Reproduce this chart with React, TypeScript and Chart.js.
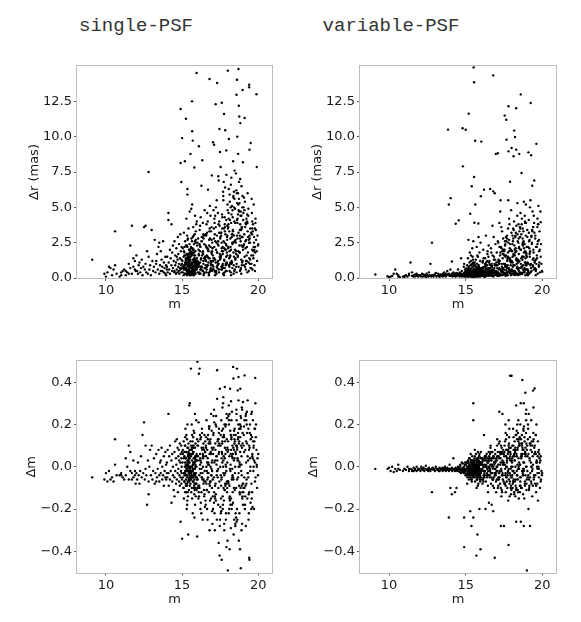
import React, { useEffect, useRef } from "react";
import { Chart, registerables } from "chart.js";

Chart.register(...registerables);

// Star magnitudes (shared by all four panels), grouped by magnitude bins
const magnitudes = [
  // 9.0 - 12.0
  9.1, 9.9, 10.0, 10.1, 10.2, 10.4, 10.5, 10.6, 10.6, 10.7,
  10.9, 11.0, 11.1, 11.2, 11.3, 11.3, 11.4, 11.5, 11.6, 11.6,
  11.7, 11.7, 11.8, 11.8, 11.9, 11.9, 11.95, 11.5, 11.0, 10.3,
  // 12.0 - 14.0
  12.0, 12.05, 12.1, 12.15, 12.2, 12.25, 12.3, 12.35, 12.4, 12.45,
  12.5, 12.55, 12.6, 12.6, 12.65, 12.7, 12.75, 12.8, 12.8, 12.85,
  12.9, 12.95, 13.0, 13.05, 13.1, 13.15, 13.2, 13.25, 13.3, 13.35,
  13.4, 13.45, 13.5, 13.5, 13.55, 13.6, 13.65, 13.7, 13.7, 13.75,
  13.8, 13.8, 13.85, 13.9, 13.9, 13.95, 13.95, 14.0, 13.6, 13.3,
  // 14.0 - 15.0
  14.0, 14.02, 14.05, 14.1, 14.1, 14.12, 14.15, 14.2, 14.2, 14.25,
  14.3, 14.3, 14.35, 14.35, 14.4, 14.4, 14.45, 14.5, 14.5, 14.55,
  14.55, 14.6, 14.6, 14.62, 14.65, 14.7, 14.7, 14.72, 14.75, 14.75,
  14.78, 14.8, 14.8, 14.82, 14.85, 14.85, 14.88, 14.9, 14.9, 14.9,
  14.92, 14.94, 14.95, 14.95, 14.96, 14.97, 14.98, 14.99, 14.5, 14.65,
  // 15.0 - 15.5
  15.0, 15.02, 15.05, 15.05, 15.08, 15.1, 15.1, 15.12, 15.15, 15.15,
  15.18, 15.2, 15.2, 15.2, 15.22, 15.25, 15.25, 15.25, 15.28, 15.3,
  15.3, 15.3, 15.32, 15.33, 15.35, 15.35, 15.35, 15.37, 15.38, 15.4,
  15.4, 15.4, 15.42, 15.42, 15.43, 15.45, 15.45, 15.45, 15.47, 15.48,
  15.48, 15.5, 15.5, 15.5, 15.5, 15.22, 15.28, 15.34, 15.4, 15.46,
  15.05, 15.12, 15.18, 15.24, 15.3, 15.36, 15.42, 15.48, 15.15, 15.27,
  15.33, 15.39, 15.44, 15.49, 15.1, 15.2, 15.3, 15.4, 15.45, 15.35,
  // 15.5 - 16.0
  15.52, 15.55, 15.55, 15.57, 15.58, 15.6, 15.6, 15.6, 15.62, 15.63,
  15.65, 15.65, 15.66, 15.68, 15.7, 15.7, 15.7, 15.72, 15.73, 15.75,
  15.75, 15.77, 15.78, 15.8, 15.8, 15.8, 15.82, 15.83, 15.85, 15.85,
  15.87, 15.88, 15.9, 15.9, 15.92, 15.93, 15.95, 15.95, 15.97, 15.98,
  15.55, 15.6, 15.65, 15.7, 15.75, 15.8, 15.85, 15.9, 15.95, 15.62,
  15.68, 15.74, 15.79, 15.84, 15.89, 15.94, 15.57, 15.63, 15.69, 15.76,
  15.81, 15.86, 15.91, 15.96, 15.53, 15.59, 15.71, 15.83, 15.99, 15.66,
  // 16.0 - 16.5
  16.0, 16.02, 16.05, 16.07, 16.1, 16.1, 16.12, 16.15, 16.17, 16.2,
  16.2, 16.22, 16.25, 16.27, 16.3, 16.3, 16.32, 16.35, 16.37, 16.4,
  16.4, 16.42, 16.45, 16.47, 16.48, 16.5, 16.03, 16.08, 16.13, 16.18,
  16.23, 16.28, 16.33, 16.38, 16.43, 16.06, 16.16, 16.26, 16.36, 16.46,
  // 16.5 - 17.0
  16.52, 16.55, 16.57, 16.6, 16.6, 16.62, 16.65, 16.67, 16.7, 16.7,
  16.72, 16.75, 16.77, 16.8, 16.8, 16.82, 16.85, 16.87, 16.9, 16.9,
  16.92, 16.95, 16.97, 16.98, 16.53, 16.58, 16.63, 16.68, 16.73, 16.78,
  16.83, 16.88, 16.93, 16.99, 16.56, 16.66, 16.76, 16.86, 16.96, 16.64,
  // 17.0 - 17.5
  17.0, 17.03, 17.05, 17.08, 17.1, 17.1, 17.12, 17.15, 17.18, 17.2,
  17.2, 17.22, 17.25, 17.28, 17.3, 17.3, 17.32, 17.35, 17.38, 17.4,
  17.4, 17.42, 17.45, 17.48, 17.5, 17.02, 17.07, 17.13, 17.17, 17.23,
  17.27, 17.33, 17.37, 17.43, 17.47, 17.06, 17.16, 17.26, 17.36, 17.46,
  // 17.5 - 18.0
  17.52, 17.55, 17.57, 17.6, 17.6, 17.62, 17.65, 17.67, 17.7, 17.7,
  17.72, 17.75, 17.77, 17.8, 17.8, 17.82, 17.85, 17.87, 17.9, 17.9,
  17.92, 17.95, 17.97, 17.98, 17.53, 17.58, 17.63, 17.68, 17.73, 17.78,
  17.83, 17.88, 17.93, 17.99, 17.56, 17.61, 17.66, 17.71, 17.76, 17.81,
  17.86, 17.91, 17.96, 17.54, 17.64, 17.74, 17.84, 17.94, 17.69, 17.79,
  // 18.0 - 18.5
  18.0, 18.02, 18.05, 18.07, 18.1, 18.1, 18.12, 18.15, 18.17, 18.2,
  18.2, 18.22, 18.25, 18.27, 18.3, 18.3, 18.32, 18.35, 18.37, 18.4,
  18.4, 18.42, 18.45, 18.47, 18.5, 18.03, 18.08, 18.13, 18.18, 18.23,
  18.28, 18.33, 18.38, 18.43, 18.48, 18.06, 18.16, 18.26, 18.36, 18.46,
  18.04, 18.14, 18.24, 18.34, 18.44, 18.11, 18.21, 18.31, 18.41, 18.49,
  // 18.5 - 19.0
  18.52, 18.55, 18.57, 18.6, 18.6, 18.62, 18.65, 18.67, 18.7, 18.7,
  18.72, 18.75, 18.77, 18.8, 18.8, 18.82, 18.85, 18.87, 18.9, 18.9,
  18.92, 18.95, 18.97, 18.98, 18.53, 18.58, 18.63, 18.68, 18.73, 18.78,
  18.83, 18.88, 18.93, 18.99, 18.56, 18.61, 18.66, 18.71, 18.76, 18.81,
  18.86, 18.91, 18.96, 18.54, 18.64, 18.74, 18.84, 18.94, 18.69, 18.79,
  // 19.0 - 19.5
  19.0, 19.02, 19.05, 19.08, 19.1, 19.1, 19.12, 19.15, 19.18, 19.2,
  19.2, 19.22, 19.25, 19.28, 19.3, 19.3, 19.32, 19.35, 19.38, 19.4,
  19.4, 19.42, 19.45, 19.48, 19.5, 19.03, 19.07, 19.13, 19.17, 19.23,
  19.27, 19.33, 19.37, 19.43, 19.47, 19.06, 19.16, 19.26, 19.36, 19.46,
  // 19.5 - 20.0
  19.52, 19.55, 19.58, 19.6, 19.62, 19.65, 19.68, 19.7, 19.72, 19.75,
  19.78, 19.8, 19.82, 19.85, 19.88, 19.9, 19.92, 19.95, 19.98, 20.0,
  19.54, 19.6, 19.66, 19.72, 19.78, 19.84, 19.9, 19.57, 19.69, 19.81,
  // dense core 15.0 - 16.0
  15.21, 15.34, 15.47, 15.58, 15.69, 15.81, 15.92, 15.16, 15.29, 15.41,
  15.53, 15.64, 15.76, 15.88, 15.24, 15.37, 15.49, 15.61, 15.72, 15.84,
  15.96, 15.19, 15.31, 15.44, 15.56, 15.67, 15.79, 15.91, 15.26, 15.39,
  15.51, 15.63, 15.74, 15.86, 15.98, 15.14, 15.36, 15.46, 15.59, 15.71,
  15.83, 15.94, 15.23, 15.33, 15.43, 15.54, 15.66, 15.78, 15.89, 15.28,
  15.38, 15.52, 15.61, 15.73, 15.82, 15.11, 15.48, 15.57, 15.68, 15.87,
  // dense core 16.0 - 17.0
  16.04, 16.14, 16.24, 16.34, 16.44, 16.54, 16.64, 16.74, 16.84, 16.94,
  16.09, 16.19, 16.29, 16.39, 16.49, 16.59, 16.69, 16.79, 16.89, 16.97,
  16.01, 16.11, 16.21, 16.31, 16.41, 16.51, 16.61, 16.71, 16.81, 16.91,
  16.06, 16.17, 16.27, 16.37, 16.47, 16.57, 16.67, 16.77, 16.87, 16.95,
  // dense core 17.0 - 18.0
  17.04, 17.14, 17.24, 17.34, 17.44, 17.54, 17.64, 17.74, 17.84, 17.94,
  17.09, 17.19, 17.29, 17.39, 17.49, 17.59, 17.69, 17.79, 17.89, 17.97,
  17.01, 17.11, 17.21, 17.31, 17.41, 17.51, 17.61, 17.71, 17.81, 17.91,
  17.06, 17.17, 17.27, 17.37, 17.47, 17.57, 17.67, 17.77, 17.87, 17.96,
  // dense core 18.0 - 19.0
  18.04, 18.14, 18.24, 18.34, 18.44, 18.54, 18.64, 18.74, 18.84, 18.94,
  18.09, 18.19, 18.29, 18.39, 18.49, 18.59, 18.69, 18.79, 18.89, 18.97,
  18.01, 18.11, 18.21, 18.31, 18.41, 18.51, 18.61, 18.71, 18.81, 18.91,
  18.06, 18.17, 18.27, 18.37, 18.47, 18.57, 18.67, 18.77, 18.87, 18.96,
  // dense core 19.0 - 19.8
  19.04, 19.14, 19.24, 19.34, 19.44, 19.54, 19.64, 19.74, 19.09, 19.19,
  19.29, 19.39, 19.49, 19.59, 19.69, 19.01, 19.21, 19.41, 19.61, 19.79,
];

// Δr (mas), single-PSF
const drSingle = [
  1.3, 0.3, 0.1, 0.4, 0.8, 0.2, 0.6, 3.3, 0.9, 0.3,
  0.1, 0.4, 0.5, 0.6, 0.5, 0.2, 0.4, 1.0, 2.3, 0.7,
  3.7, 0.3, 0.8, 1.4, 0.6, 1.2, 0.5, 0.3, 0.2, 0.7,
  1.6, 0.5, 0.3, 0.9, 1.1, 0.4, 0.7, 1.3, 0.2, 0.8,
  3.6, 0.6, 3.7, 1.0, 0.4, 1.9, 0.3, 7.5, 1.5, 0.6,
  0.9, 0.2, 3.4, 1.2, 0.5, 0.8, 2.7, 0.4, 1.0, 1.7,
  0.6, 2.2, 2.5, 0.3, 0.9, 1.9, 1.3, 0.5, 0.8, 2.6,
  0.4, 1.1, 0.7, 0.3, 1.5, 0.9, 0.2, 0.6, 0.5, 1.2,
  0.8, 1.5, 0.4, 4.6, 4.1, 1.1, 0.6, 2.0, 0.3, 1.4,
  3.8, 0.9, 0.5, 1.8, 2.3, 0.7, 1.2, 0.4, 2.6, 0.9,
  1.6, 0.3, 1.1, 2.1, 0.6, 1.3, 0.4, 2.9, 0.8, 1.7,
  0.5, 1.0, 2.4, 0.3, 1.4, 0.7, 3.1, 11.96, 8.14, 0.6,
  1.9, 0.9, 6.79, 0.4, 1.3, 2.2, 0.7, 1.0, 0.5, 1.5,
  9.9, 1.2, 0.4, 2.1, 0.8, 1.5, 0.2, 3.2, 0.9, 1.8,
  8.26, 0.6, 1.1, 2.6, 0.3, 11.27, 1.4, 0.7, 4.2, 1.0,
  2.3, 0.5, 1.7, 0.2, 6.3, 5.9, 0.9, 1.3, 2.8, 0.4,
  1.6, 0.8, 3.5, 1.1, 0.3, 2.0, 0.6, 1.4, 0.9, 2.4,
  0.5, 1.2, 4.7, 0.2, 1.8, 0.7, 1.0, 2.2, 0.4, 1.5,
  0.8, 1.9, 0.3, 1.3, 0.6, 2.7, 1.1, 0.4, 1.6, 0.9,
  3.0, 0.5, 1.2, 2.0, 0.7, 1.0, 0.3, 1.7, 0.6, 1.4,
  0.8, 1.5, 8.78, 0.3, 2.2, 1.0, 4.9, 0.5, 1.7, 0.9,
  12.5, 2.6, 10.38, 0.4, 1.3, 9.72, 0.7, 2.0, 3.6, 0.6,
  1.1, 0.2, 2.4, 7.82, 1.6, 0.5, 3.1, 1.2, 0.8, 4.4,
  1.9, 0.3, 2.7, 1.0, 0.6, 3.8, 14.5, 1.4, 0.9, 2.3,
  0.4, 1.8, 0.7, 2.9, 1.2, 0.5, 1.6, 3.3, 0.8, 1.1,
  2.1, 0.3, 1.4, 0.6, 2.5, 1.0, 0.2, 1.7, 0.9, 3.0,
  0.5, 1.3, 0.7, 4.0, 1.5, 0.4, 2.0, 0.9, 1.2, 5.2,
  1.2, 0.4, 2.8, 0.9, 9.32, 1.6, 0.3, 3.4, 1.1, 2.2,
  0.6, 4.3, 1.4, 6.53, 0.8, 2.6, 8.33, 0.5, 1.9, 3.1,
  1.0, 0.2, 2.4, 0.7, 4.8, 1.5, 0.9, 2.0, 0.4, 3.7,
  1.3, 0.6, 2.9, 1.7, 0.3, 1.1, 2.3, 0.8, 3.9, 1.4,
  0.7, 2.3, 1.2, 3.8, 0.4, 1.6, 4.6, 0.9, 6.25, 2.0,
  1.1, 0.3, 2.7, 14.08, 1.4, 5.1, 0.6, 2.2, 3.3, 0.9,
  1.8, 7.26, 0.5, 2.5, 1.3, 3.0, 0.8, 4.0, 1.9, 0.4,
  2.8, 1.0, 3.6, 0.6, 1.5, 2.1, 0.2, 4.4, 1.2, 3.2,
  2.1, 9.6, 0.8, 3.5, 9.43, 1.4, 4.2, 0.5, 2.6, 12.3,
  1.1, 5.0, 0.3, 3.0, 13.8, 1.8, 0.7, 4.6, 2.3, 1.0,
  6.9, 0.4, 10.54, 8.92, 2.8, 1.6, 0.6, 3.9, 1.3, 2.0,
  5.5, 0.9, 7.2, 3.2, 1.5, 4.8, 0.2, 2.5, 1.2, 3.7,
  1.4, 3.2, 0.6, 12.4, 2.1, 4.5, 0.9, 1.7, 5.8, 0.3,
  2.6, 11.6, 1.2, 3.8, 0.7, 6.4, 2.0, 1.0, 9.03, 4.1,
  0.5, 2.9, 1.6, 5.2, 7.85, 0.8, 3.5, 1.9, 6.8, 0.4,
  10.45, 2.4, 1.1, 4.8, 3.0, 0.6, 2.2, 5.5, 1.3, 3.6,
  0.9, 7.3, 2.7, 1.5, 4.3, 0.2, 3.1, 1.8, 6.1, 2.5,
  14.67, 2.1, 4.6, 9.83, 0.8, 3.3, 5.9, 1.5, 2.8, 0.4,
  6.6, 3.9, 1.2, 5.1, 2.4, 0.7, 4.3, 8.26, 1.8, 3.0,
  6.1, 0.5, 2.6, 4.9, 1.4, 3.6, 0.9, 5.4, 2.2, 7.1,
  1.1, 3.4, 0.3, 4.0, 2.0, 6.3, 1.6, 2.9, 5.7, 0.6,
  3.8, 1.0, 4.5, 2.5, 7.6, 1.9, 0.2, 3.1, 5.0, 1.3,
  2.5, 0.8, 12.97, 14.03, 4.1, 10.0, 1.6, 6.0, 14.79, 3.2,
  12.19, 11.43, 5.3, 0.5, 2.8, 10.96, 4.7, 1.3, 6.5, 3.6,
  0.9, 5.0, 13.3, 2.2, 7.4, 1.0, 3.9, 8.78, 5.6, 1.8,
  4.4, 0.3, 2.9, 8.19, 6.2, 3.0, 1.5, 4.8, 2.3, 7.0,
  0.7, 3.5, 5.8, 1.9, 4.2, 6.8, 2.6, 1.1, 5.2, 3.4,
  2.0, 4.6, 0.9, 3.1, 11.32, 1.5, 5.4, 2.6, 0.6, 3.8,
  1.2, 4.2, 2.2, 0.4, 6.0, 3.3, 1.8, 4.9, 2.7, 13.68,
  13.5, 9.08, 1.0, 3.5, 9.55, 5.0, 2.4, 0.8, 3.9, 1.6,
  4.5, 2.9, 0.5, 3.0, 1.3, 5.7, 2.1, 4.0, 1.1, 2.5,
  3.2, 1.0, 4.6, 2.0, 0.6, 3.8, 1.4, 5.2, 2.5, 0.9,
  3.5, 1.8, 4.2, 2.7, 13.0, 7.85, 1.2, 3.0, 2.3, 2.4,
  0.7, 4.0, 1.6, 2.9, 0.5, 3.4, 1.9, 5.6, 2.2, 3.9,
  // dense core
  0.9, 0.5, 1.3, 0.7, 1.8, 0.4, 1.1, 2.2, 0.6, 1.5,
  0.3, 1.0, 2.0, 0.8, 1.2, 0.5, 1.7, 0.9, 0.3, 2.6,
  1.4, 0.7, 1.1, 0.4, 1.9, 0.6, 1.3, 0.8, 2.3, 0.5,
  1.0, 1.6, 0.2, 1.2, 0.7, 0.9, 1.4, 0.4, 2.1, 0.8,
  1.1, 0.6, 1.6, 0.3, 0.9, 1.3, 0.5, 1.8, 1.0, 0.7,
  1.5, 0.4, 2.8, 0.8, 1.2, 0.6, 1.0, 0.3, 1.7, 0.9,
  1.1, 2.4, 0.6, 1.8, 3.0, 0.9, 2.1, 1.4, 0.5, 2.7,
  1.7, 0.8, 2.9, 1.2, 0.4, 2.2, 1.5, 3.3, 0.7, 1.9,
  2.5, 1.0, 0.3, 1.6, 2.8, 1.3, 0.6, 2.0, 3.5, 1.1,
  0.8, 1.9, 2.6, 0.5, 1.4, 3.1, 0.9, 2.3, 1.2, 1.7,
  1.2, 3.1, 0.5, 2.4, 4.0, 1.6, 0.8, 3.5, 2.0, 1.0,
  2.8, 0.4, 1.8, 3.8, 1.3, 2.5, 0.7, 4.3, 1.5, 3.0,
  0.9, 2.2, 3.6, 1.1, 0.6, 2.9, 1.9, 0.3, 3.3, 2.3,
  1.4, 4.4, 0.8, 2.6, 1.7, 3.2, 1.0, 2.1, 0.5, 3.7,
  2.2, 4.1, 1.0, 3.3, 5.6, 1.7, 2.8, 4.7, 0.6, 3.6,
  1.4, 5.0, 2.5, 0.9, 3.9, 6.0, 1.9, 3.0, 4.4, 1.2,
  3.5, 0.5, 2.0, 4.8, 1.5, 2.7, 5.3, 0.8, 3.8, 2.3,
  4.2, 1.1, 3.1, 5.8, 2.6, 0.4, 4.5, 1.8, 3.4, 2.9,
  2.3, 3.6, 1.2, 4.4, 2.8, 1.6, 3.3, 2.0, 4.8, 1.0,
  3.9, 2.5, 0.7, 3.1, 1.9, 4.1, 2.7, 1.4, 3.5, 2.2,
];

// Δr (mas), variable-PSF
const drVariable = [
  0.25, 0.12, 0.05, 0.1, 0.15, 0.6, 0.3, 0.1, 0.2, 0.05,
  0.1, 0.15, 0.2, 0.1, 0.2, 0.3, 1.1, 0.15, 0.1, 0.2,
  0.25, 0.1, 0.3, 0.15, 0.2, 0.1, 0.2, 0.4, 0.05, 0.3,
  0.15, 0.2, 0.1, 0.3, 0.1, 0.25, 0.15, 0.2, 0.05, 0.3,
  0.2, 0.1, 0.4, 0.15, 0.2, 1.0, 0.1, 2.5, 0.2, 0.15,
  0.1, 0.25, 0.2, 0.35, 0.1, 0.15, 0.3, 0.2, 0.1, 0.25,
  0.15, 0.2, 0.3, 0.1, 0.2, 0.4, 0.15, 0.25, 0.1, 0.3,
  0.2, 0.5, 10.5, 5.2, 0.3, 0.15, 0.2, 0.6, 0.25, 0.1,
  0.2, 5.65, 0.15, 0.3, 1.17, 0.2, 0.1, 0.4, 0.25, 0.15,
  0.3, 0.2, 3.84, 0.1, 0.35, 0.2, 0.15, 0.3, 0.6, 4.08,
  0.2, 0.1, 0.25, 0.4, 0.15, 0.3, 1.4, 0.2, 0.1, 0.5,
  0.25, 0.15, 10.6, 7.9, 0.3, 0.2, 0.8, 0.1, 0.35, 1.0,
  0.2, 0.4, 0.15, 0.3, 0.6, 0.25, 0.1, 0.45, 0.2, 0.3,
  10.49, 0.3, 0.1, 0.6, 0.2, 0.9, 0.4, 0.15, 1.4, 0.3,
  0.5, 0.2, 11.63, 0.8, 0.1, 0.4, 1.1, 0.25, 0.6, 4.55,
  0.2, 0.35, 0.9, 0.1, 0.5, 1.6, 0.3, 0.2, 0.7, 6.49,
  0.15, 0.4, 1.0, 0.25, 2.1, 0.5, 0.1, 0.3, 0.8, 0.2,
  1.3, 0.45, 0.1, 2.6, 0.35, 0.6, 0.2, 1.2, 0.4, 0.15,
  0.7, 0.3, 2.7, 0.5, 0.2, 0.9, 0.1, 0.4, 0.6, 1.8,
  0.25, 0.5, 0.3, 1.1, 0.2, 0.7, 0.15, 0.35, 1.5, 0.4,
  14.9, 13.85, 7.15, 3.91, 0.3, 0.6, 0.1, 0.9, 9.71, 5.2,
  0.2, 0.5, 1.3, 0.3, 0.15, 0.8, 0.4, 2.2, 0.25, 0.6,
  1.0, 0.1, 0.35, 0.7, 0.2, 1.5, 0.45, 3.86, 0.3, 0.9,
  0.15, 0.6, 0.25, 1.8, 0.4, 0.2, 0.7, 0.1, 2.5, 0.5,
  0.3, 1.1, 0.2, 0.6, 0.4, 0.15, 0.8, 0.3, 1.2, 0.5,
  0.1, 0.7, 0.35, 2.9, 0.2, 0.55, 0.9, 0.25, 0.4, 1.6,
  0.3, 0.15, 0.6, 0.2, 1.0, 0.45, 0.35, 0.1, 5.78, 0.8,
  0.3, 9.65, 0.6, 0.2, 1.1, 0.4, 0.15, 2.0, 0.5, 6.25,
  0.3, 0.8, 0.2, 1.4, 0.45, 0.1, 3.0, 0.6, 0.3, 0.9,
  0.2, 1.7, 0.5, 0.35, 0.15, 2.3, 0.7, 0.25, 1.2, 0.4,
  0.1, 0.6, 0.9, 0.3, 1.9, 0.5, 0.2, 1.0, 0.4, 0.7,
  0.4, 1.2, 0.2, 6.3, 0.7, 0.3, 2.1, 0.5, 1.0, 0.15,
  0.8, 3.7, 0.3, 14.34, 6.13, 0.6, 1.5, 0.2, 6.0, 0.9,
  0.4, 2.4, 8.78, 0.3, 1.1, 0.5, 0.2, 1.8, 0.6, 0.35,
  2.9, 0.45, 1.3, 0.25, 0.7, 0.3, 1.6, 0.5, 0.9, 0.2,
  0.5, 1.8, 0.2, 0.9, 8.83, 2.6, 0.4, 1.3, 0.15, 3.9,
  0.7, 0.3, 1.6, 5.5, 0.5, 2.2, 0.25, 1.0, 3.3, 0.6,
  0.2, 1.4, 2.8, 0.4, 1.9, 0.9, 0.35, 2.5, 0.6, 1.2,
  0.2, 3.6, 0.8, 0.45, 1.7, 0.3, 1.1, 4.7, 0.55, 2.0,
  0.6, 11.49, 2.3, 0.3, 1.5, 0.9, 11.2, 9.79, 0.4, 2.8,
  1.2, 0.2, 3.5, 12.15, 8.96, 0.7, 1.9, 0.35, 6.81, 2.4,
  0.5, 1.1, 4.8, 0.25, 1.6, 0.8, 2.9, 0.4, 1.3, 5.5,
  0.6, 2.1, 0.3, 3.2, 1.0, 0.15, 2.6, 0.7, 1.8, 0.45,
  3.8, 1.2, 0.3, 2.0, 0.55, 1.4, 4.2, 0.9, 0.2, 2.5,
  9.2, 0.6, 2.4, 1.1, 0.3, 3.5, 1.7, 0.5, 10.43, 2.0,
  0.9, 9.98, 3.0, 0.4, 12.01, 9.08, 1.4, 0.7, 4.4, 2.6,
  0.2, 1.3, 3.8, 0.5, 8.78, 1.9, 0.8, 8.61, 2.3, 0.35,
  3.2, 1.0, 5.3, 0.6, 2.1, 1.5, 4.0, 0.25, 1.2, 2.8,
  0.45, 3.4, 1.8, 0.7, 2.5, 0.9, 1.6, 3.7, 0.3, 2.2,
  1.2, 3.6, 0.4, 12.99, 2.0, 0.7, 7.43, 4.2, 1.5, 0.3,
  2.8, 0.9, 3.3, 5.4, 1.8, 0.5, 2.4, 4.0, 0.2, 1.1,
  3.0, 0.6, 1.7, 2.2, 0.35, 4.6, 1.4, 0.8, 3.5, 2.6,
  0.45, 1.9, 5.2, 1.0, 2.9, 0.3, 3.8, 1.3, 0.6, 2.1,
  4.4, 0.9, 1.6, 0.25, 3.1, 2.5, 0.7, 3.9, 1.5, 0.5,
  1.5, 3.4, 0.6, 2.2, 8.89, 1.0, 4.1, 0.3, 2.7, 1.8,
  5.0, 0.9, 12.38, 8.68, 3.0, 0.5, 2.4, 6.53, 1.3, 3.6,
  0.8, 2.0, 4.4, 6.9, 1.1, 2.9, 0.4, 3.2, 1.7, 5.5,
  0.7, 2.5, 4.7, 1.4, 3.9, 0.2, 2.1, 1.0, 3.3, 0.6,
  1.2, 3.0, 0.5, 2.2, 9.49, 1.6, 3.6, 0.3, 2.6, 5.1,
  0.8, 1.9, 3.3, 0.4, 4.7, 3.95, 2.4, 1.0, 0.5, 0.45,
  2.8, 0.6, 1.4, 3.8, 0.9, 2.0, 1.5, 0.2, 4.2, 1.1,
  // dense core
  0.2, 0.35, 0.1, 0.5, 0.25, 0.15, 0.4, 0.3, 0.6, 0.1,
  0.2, 0.45, 0.3, 0.15, 0.55, 0.2, 0.1, 0.35, 0.7, 0.25,
  0.4, 0.15, 0.3, 0.5, 0.1, 0.25, 0.6, 0.2, 0.35, 0.45,
  0.15, 0.3, 0.2, 0.8, 0.25, 0.1, 0.4, 0.55, 0.2, 0.3,
  0.15, 0.5, 0.25, 0.35, 0.1, 0.65, 0.2, 0.3, 0.45, 0.15,
  0.25, 0.1, 0.4, 0.3, 0.2, 0.5, 0.15, 0.35, 0.25, 0.6,
  0.3, 0.7, 0.15, 1.1, 0.4, 0.2, 0.9, 0.5, 1.3, 0.25,
  0.6, 0.1, 0.8, 0.35, 1.5, 0.2, 0.55, 0.4, 1.0, 0.3,
  0.15, 0.75, 0.45, 0.2, 1.2, 0.6, 0.3, 0.85, 0.1, 0.5,
  0.4, 1.4, 0.25, 0.65, 0.2, 0.95, 0.35, 0.15, 0.7, 0.45,
  0.4, 1.2, 0.2, 2.1, 0.7, 0.3, 1.6, 0.9, 2.7, 0.5,
  0.15, 1.0, 0.6, 1.9, 0.3, 2.4, 0.8, 0.45, 1.4, 0.2,
  1.1, 0.35, 2.2, 0.6, 1.7, 0.25, 0.9, 3.0, 0.5, 1.3,
  0.7, 0.2, 1.8, 0.4, 1.0, 2.6, 0.3, 1.5, 0.6, 2.0,
  0.5, 1.6, 2.9, 0.3, 1.1, 3.6, 0.8, 2.3, 0.4, 1.8,
  2.6, 0.2, 1.3, 3.1, 0.7, 2.0, 0.35, 1.5, 3.9, 0.9,
  1.2, 2.8, 0.5, 1.9, 0.25, 3.3, 1.0, 2.4, 0.6, 1.4,
  3.0, 0.45, 2.1, 0.8, 1.7, 3.5, 0.3, 2.5, 1.1, 0.6,
  1.1, 2.6, 0.4, 3.4, 1.8, 0.7, 2.2, 3.8, 0.5, 1.5,
  2.9, 0.9, 3.2, 1.3, 2.4, 0.3, 1.9, 3.6, 1.0, 2.7,
];

// Δm, single-PSF
const dmSingle = [
  -0.05, -0.06, -0.03, -0.07, -0.02, -0.05, -0.07, 0.13, 0.01, -0.04,
  -0.04, -0.03, -0.05, -0.06, -0.04, 0.04, 0.0, 0.1, 0.07, -0.02,
  -0.03, -0.06, 0.03, -0.05, -0.02, -0.04, -0.08, -0.06, -0.04, -0.06,
  -0.03, -0.06, 0.02, -0.04, -0.08, -0.02, 0.05, -0.05, 0.15, -0.03,
  0.21, -0.06, 0.1, -0.01, -0.04, -0.18, 0.03, -0.13, -0.07, 0.0,
  0.08, -0.04, 0.1, -0.06, -0.02, 0.04, -0.08, -0.03, 0.06, -0.05,
  -0.01, 0.08, -0.04, -0.07, 0.02, -0.03, 0.09, -0.06, 0.0, -0.04,
  0.05, -0.09, -0.02, 0.07, -0.05, 0.01, -0.06, -0.03, 0.03, -0.07,
  0.02, -0.05, 0.08, 0.25, -0.03, -0.09, 0.05, -0.06, 0.1, -0.02,
  -0.17, 0.03, -0.07, 0.06, -0.04, 0.0, -0.11, 0.07, -0.05, 0.12,
  -0.02, 0.04, -0.08, 0.01, -0.06, 0.09, -0.03, -0.12, 0.05, -0.01,
  0.08, -0.07, 0.03, -0.04, 0.11, -0.09, 0.02, -0.26, 0.06, -0.05,
  -0.02, 0.1, -0.08, 0.04, -0.03, 0.0, 0.07, -0.06, -0.14, 0.13,
  -0.34, 0.02, -0.05, 0.08, -0.1, 0.12, -0.03, -0.15, 0.05, -0.07,
  0.0, -0.12, 0.1, -0.02, 0.18, -0.06, 0.04, -0.09, 0.07, -0.04,
  -0.2, 0.01, 0.13, -0.08, 0.03, -0.05, 0.09, -0.01, -0.14, 0.06,
  -0.32, 0.0, -0.07, 0.11, -0.03, 0.05, -0.11, 0.02, 0.29, -0.06,
  0.08, -0.02, 0.3, -0.09, 0.04, -0.04, 0.15, -0.16, 0.01, -0.07,
  0.06, -0.03, 0.1, -0.08, 0.0, -0.12, 0.03, -0.05, 0.07, -0.01,
  -0.18, 0.09, -0.06, 0.02, -0.1, 0.14, -0.04, 0.05, -0.02, 0.2,
  0.05, -0.08, 0.12, -0.03, 0.464, 0.0, -0.12, 0.08, -0.05, 0.2,
  -0.02, 0.03, -0.15, 0.1, -0.07, 0.06, -0.22, 0.01, 0.14, -0.04,
  0.07, -0.1, 0.02, -0.06, 0.16, -0.13, 0.04, -0.01, 0.09, -0.18,
  0.0, 0.11, -0.08, 0.05, -0.03, 0.22, -0.11, 0.03, -0.06, 0.13,
  -0.02, 0.08, -0.05, 0.01, 0.1, -0.09, 0.04, -0.14, 0.06, -0.04,
  0.12, -0.07, 0.02, 0.25, -0.1, 0.0, -0.05, 0.09, -0.02, 0.17,
  -0.24, 0.05, -0.08, 0.03, 0.0, -0.06, 0.07, -0.03, -0.33, 0.15,
  0.496, -0.06, 0.1, -0.15, 0.03, 0.44, -0.09, 0.464, 0.06, -0.2,
  0.13, -0.03, 0.02, -0.12, 0.18, -0.05, 0.08, -0.25, 0.0, 0.11,
  -0.08, 0.05, -0.14, 0.15, -0.02, 0.07, -0.1, 0.21, -0.04, 0.01,
  -0.17, 0.09, -0.06, 0.04, -0.11, 0.12, -0.01, -0.22, 0.06, -0.07,
  0.12, -0.18, 0.05, -0.08, 0.22, -0.02, 0.08, -0.25, 0.15, -0.05,
  0.02, -0.12, 0.18, -0.3, 0.06, -0.09, 0.11, 0.0, -0.15, 0.25,
  -0.04, 0.09, -0.21, 0.03, -0.07, 0.14, -0.11, 0.04, -0.03, 0.19,
  -0.16, 0.07, -0.01, -0.27, 0.1, -0.06, 0.01, 0.13, -0.1, -0.2,
  0.08, -0.2, 0.15, -0.05, 0.27, -0.12, 0.02, -0.3, 0.11, -0.08,
  0.2, -0.16, 0.05, -0.25, 0.456, 0.321, -0.02, 0.13, -0.1, 0.06,
  -0.36, 0.18, -0.07, 0.369, 0.0, -0.14, 0.09, -0.22, 0.03, 0.24,
  -0.04, 0.12, -0.18, 0.07, -0.28, 0.16, -0.09, 0.01, 0.1, -0.42,
  0.1, -0.15, 0.22, -0.05, -0.44, 0.06, 0.28, -0.2, 0.329, 0.0,
  -0.1, 0.14, -0.3, 0.377, 0.04, -0.08, 0.19, -0.25, 0.08, -0.02,
  0.25, -0.12, 0.02, -0.35, 0.15, -0.06, 0.11, -0.18, 0.05, 0.2,
  -0.03, -0.22, 0.13, 0.07, -0.09, 0.17, -0.14, 0.03, -0.27, 0.09,
  0.01, -0.38, 0.23, -0.04, 0.12, -0.16, 0.06, -0.07, 0.3, -0.11,
  -0.49, 0.12, -0.08, 0.2, -0.15, 0.05, -0.39, 0.369, -0.02, 0.15,
  -0.29, 0.08, -0.2, 0.26, -0.05, 0.1, -0.12, 0.472, 0.417, -0.1,
  0.03, -0.25, 0.18, -0.03, 0.07, -0.07, 0.22, -0.14, 0.01, 0.13,
  -0.18, 0.06, -0.32, 0.11, 0.0, -0.22, 0.17, -0.06, 0.09, -0.11,
  0.24, -0.01, 0.14, -0.17, 0.04, -0.09, 0.31, -0.04, 0.08, -0.27,
  0.15, -0.1, 0.25, 0.464, -0.2, 0.08, 0.361, -0.05, 0.424, 0.314,
  -0.35, 0.12, 0.02, -0.39, 0.2, 0.369, -0.48, 0.1, -0.3, 0.05,
  0.28, -0.15, 0.16, -0.08, 0.06, 0.22, -0.25, 0.03, 0.11, -0.12,
  0.18, -0.02, 0.09, -0.18, 0.27, -0.06, 0.13, 0.0, -0.22, 0.07,
  0.19, -0.04, -0.14, 0.1, 0.04, -0.09, 0.24, -0.27, 0.14, 0.01,
  0.306, -0.12, 0.15, -0.05, 0.432, 0.22, -0.2, 0.08, -0.28, 0.12,
  0.02, -0.08, 0.26, -0.15, 0.314, 0.05, -0.03, 0.18, -0.22, -0.43,
  0.1, -0.44, 0.2, 0.0, 0.13, -0.1, 0.07, -0.18, 0.24, -0.06,
  0.16, 0.03, -0.13, 0.09, -0.02, 0.19, -0.09, 0.11, -0.25, 0.04,
  0.15, -0.08, 0.26, 0.05, -0.19, 0.22, -0.02, 0.1, -0.2, 0.18,
  0.02, 0.42, -0.05, 0.2, 0.08, 0.01, -0.1, 0.04, -0.04, 0.06,
  0.25, -0.12, 0.12, 0.03, -0.07, 0.14, 0.0, -0.15, 0.09, 0.3,
  // dense core
  -0.03, 0.02, -0.06, 0.05, -0.01, -0.08, 0.03, -0.04, 0.07, -0.02,
  0.0, -0.1, 0.04, -0.05, 0.01, -0.07, 0.06, -0.03, 0.09, -0.01,
  -0.05, 0.02, -0.09, 0.04, -0.02, 0.06, -0.04, 0.0, -0.12, 0.03,
  -0.06, 0.08, -0.01, -0.04, 0.05, -0.07, 0.01, -0.03, 0.1, -0.05,
  0.02, -0.08, 0.04, -0.02, 0.07, -0.06, 0.0, -0.03, 0.03, -0.09,
  0.05, -0.01, -0.05, 0.02, -0.11, 0.04, -0.04, 0.06, -0.02, 0.01,
  0.05, -0.1, 0.14, -0.03, 0.08, -0.16, 0.02, 0.11, -0.07, 0.17,
  -0.12, 0.04, -0.05, 0.09, -0.19, 0.0, 0.13, -0.08, 0.06, -0.02,
  0.1, -0.14, 0.03, 0.16, -0.06, 0.07, -0.11, 0.01, 0.12, -0.04,
  -0.09, 0.15, -0.01, 0.05, -0.13, 0.09, -0.03, 0.19, -0.07, 0.02,
  0.06, -0.14, 0.19, -0.05, 0.11, -0.22, 0.02, 0.15, -0.09, 0.23,
  -0.17, 0.08, -0.02, 0.13, -0.25, 0.04, 0.18, -0.11, 0.0, 0.09,
  -0.06, 0.21, -0.13, 0.03, 0.16, -0.19, 0.07, -0.03, 0.12, -0.08,
  0.24, -0.15, 0.05, -0.01, 0.1, -0.21, 0.14, -0.04, 0.2, -0.1,
  0.08, -0.16, 0.22, -0.05, 0.13, -0.24, 0.03, 0.18, -0.1, 0.27,
  -0.2, 0.06, -0.01, 0.15, -0.28, 0.1, 0.2, -0.13, 0.01, 0.11,
  -0.07, 0.25, -0.15, 0.04, 0.17, -0.22, 0.09, -0.03, 0.14, -0.09,
  0.29, -0.18, 0.05, -0.06, 0.12, -0.26, 0.16, 0.0, 0.23, -0.12,
  0.1, -0.14, 0.2, -0.05, 0.16, -0.2, 0.04, 0.12, -0.1, 0.25,
  -0.03, 0.08, -0.17, 0.14, 0.0, -0.08, 0.22, -0.12, 0.06, 0.18,
];

// Δm, variable-PSF
const dmVariable = [
  -0.01, -0.01, -0.005, -0.02, 0.0, -0.01, -0.02, 0.01, -0.01, -0.015,
  -0.02, -0.01, -0.015, 0.0, -0.01, -0.02, -0.01, -0.015, -0.005, -0.02,
  -0.01, -0.015, 0.0, -0.02, -0.01, -0.015, -0.01, -0.02, -0.01, -0.025,
  -0.01, -0.02, 0.0, -0.01, -0.015, -0.005, -0.02, -0.01, 0.005, -0.015,
  -0.01, -0.02, -0.005, -0.01, -0.015, -0.02, -0.01, -0.12, -0.01, -0.005,
  -0.015, -0.01, -0.02, 0.0, -0.01, -0.015, -0.01, -0.02, -0.005, -0.01,
  -0.015, -0.01, -0.02, -0.005, -0.01, -0.015, 0.0, -0.01, -0.02, -0.01,
  -0.015, -0.005, -0.01, -0.24, -0.02, -0.01, 0.01, -0.015, -0.01, -0.02,
  -0.1, -0.01, -0.015, -0.13, -0.005, -0.02, -0.01, 0.04, -0.015, -0.01,
  -0.12, -0.02, -0.005, -0.01, -0.1, -0.015, -0.02, -0.01, 0.0, -0.015,
  -0.02, -0.01, -0.005, -0.025, 0.01, -0.015, -0.03, -0.01, 0.02, -0.02,
  -0.01, -0.025, -0.005, 0.015, -0.02, -0.01, -0.03, -0.24, -0.38, 0.0,
  -0.015, -0.02, 0.01, -0.03, -0.01, 0.02, -0.02, -0.04, -0.01, 0.005,
  -0.02, 0.01, -0.04, -0.01, 0.02, -0.03, 0.0, -0.05, 0.03, -0.02,
  -0.01, -0.06, 0.02, -0.03, 0.01, -0.04, -0.02, 0.04, -0.01, -0.21,
  -0.03, 0.0, -0.05, 0.02, -0.02, -0.01, 0.03, -0.04, -0.28, 0.01,
  -0.02, -0.06, 0.0, -0.03, 0.05, -0.01, -0.04, 0.02, -0.02, 0.01,
  -0.05, 0.3, 0.22, -0.24, -0.03, 0.0, -0.02, 0.03, -0.07, -0.01,
  0.02, -0.04, -0.01, 0.04, -0.03, -0.06, 0.01, -0.02, 0.0, -0.05,
  0.06, -0.01, -0.03, 0.02, -0.08, 0.0, -0.02, 0.03, -0.04, -0.01,
  -0.02, 0.02, -0.05, 0.0, 0.04, -0.03, -0.01, 0.05, -0.07, 0.01,
  -0.04, 0.03, -0.02, 0.06, -0.42, -0.01, 0.0, -0.06, 0.02, -0.03,
  0.04, -0.32, -0.01, 0.07, -0.04, 0.01, -0.02, -0.08, 0.03, -0.05,
  0.0, 0.05, -0.03, -0.2, 0.02, -0.06, 0.01, -0.02, -0.39, 0.04,
  -0.04, 0.08, -0.01, -0.05, 0.02, -0.03, 0.0, 0.06, -0.07, 0.01,
  -0.02, 0.03, -0.09, 0.0, 0.05, -0.04, 0.02, -0.03, 0.01, -0.06,
  0.04, -0.01, 0.02, -0.05, 0.0, 0.03, -0.1, -0.02, 0.07, -0.04,
  -0.03, 0.02, -0.06, 0.04, -0.01, -0.08, 0.03, 0.0, -0.04, 0.15,
  0.01, -0.05, 0.05, -0.02, -0.2, 0.03, -0.07, 0.0, 0.06, -0.03,
  -0.01, 0.04, -0.09, 0.02, -0.04, 0.07, -0.02, 0.01, -0.06, 0.03,
  -0.03, 0.0, 0.05, -0.05, 0.02, -0.01, -0.07, 0.04, 0.0, -0.12,
  -0.17, 0.03, -0.05, 0.06, -0.02, 0.09, -0.08, 0.01, -0.18, 0.04,
  -0.03, 0.07, -0.06, -0.21, 0.0, 0.05, -0.1, 0.02, -0.43, -0.04,
  0.08, -0.01, 0.03, -0.07, 0.05, -0.02, 0.1, -0.05, 0.01, -0.09,
  0.04, -0.03, 0.06, -0.12, 0.0, 0.03, -0.06, 0.02, -0.04, 0.07,
  0.04, -0.06, 0.1, -0.02, 0.07, -0.1, 0.01, 0.05, -0.05, 0.26,
  -0.03, 0.12, -0.08, 0.02, -0.28, 0.06, -0.01, 0.09, -0.12, 0.25,
  0.03, -0.04, 0.08, -0.07, -0.28, 0.0, 0.05, -0.09, 0.11, -0.02,
  0.04, -0.14, 0.07, -0.06, 0.02, 0.13, -0.03, 0.01, -0.11, 0.06,
  0.05, -0.08, 0.12, -0.03, 0.2, -0.12, 0.08, -0.05, 0.15, 0.02,
  -0.1, 0.06, -0.02, -0.37, 0.1, -0.06, 0.18, -0.14, 0.43, 0.03,
  -0.04, 0.09, -0.09, 0.0, 0.07, -0.01, 0.13, -0.07, 0.04, -0.16,
  0.11, -0.03, 0.06, -0.11, 0.01, 0.16, -0.05, 0.08, -0.02, 0.22,
  -0.08, 0.05, -0.13, 0.1, 0.0, -0.04, 0.14, -0.1, 0.03, 0.07,
  0.43, -0.05, 0.1, -0.1, 0.05, 0.18, -0.02, 0.08, -0.13, 0.03,
  0.12, -0.07, 0.0, 0.15, 0.29, -0.26, 0.06, -0.04, 0.2, -0.11,
  0.09, -0.01, 0.04, -0.15, 0.11, 0.02, -0.08, 0.14, -0.03, 0.07,
  -0.06, 0.17, 0.01, -0.12, 0.1, -0.02, 0.06, -0.09, 0.13, 0.0,
  -0.04, 0.08, -0.14, 0.05, 0.22, -0.07, 0.03, -0.1, 0.16, -0.01,
  0.1, -0.05, 0.2, 0.3, -0.26, 0.05, -0.1, 0.15, 0.41, -0.02,
  0.08, -0.13, 0.18, 0.3, -0.28, 0.02, 0.12, -0.07, 0.35, -0.04,
  0.06, 0.22, -0.11, 0.0, 0.14, -0.09, 0.04, 0.1, -0.03, 0.17,
  -0.15, 0.07, 0.25, -0.06, 0.01, 0.13, -0.1, 0.09, -0.01, 0.19,
  -0.08, 0.05, 0.27, -0.12, 0.11, -0.04, 0.06, 0.16, -0.02, 0.08,
  -0.49, 0.1, -0.05, 0.18, -0.2, 0.06, 0.25, -0.1, 0.03, -0.28,
  0.14, -0.03, 0.08, 0.22, -0.08, 0.0, 0.12, -0.14, 0.05, 0.36,
  0.01, 0.16, -0.06, 0.09, 0.37, -0.02, 0.2, -0.11, 0.04, 0.11,
  -0.07, 0.07, -0.01, 0.28, -0.04, 0.13, -0.09, 0.02, 0.1, -0.05,
  0.1, -0.04, 0.06, -0.12, 0.2, 0.02, -0.08, 0.05, -0.16, 0.0,
  0.08, -0.03, 0.04, -0.1, 0.03, 0.05, -0.06, -0.02, -0.04, -0.03,
  0.07, -0.09, 0.0, 0.12, -0.05, 0.02, -0.07, 0.15, -0.01, 0.06,
  // dense core
  -0.01, -0.03, 0.01, -0.02, 0.0, -0.04, 0.02, -0.01, -0.03, 0.01,
  -0.02, 0.0, -0.05, 0.02, -0.01, -0.03, 0.03, -0.02, 0.0, -0.04,
  0.01, -0.01, -0.02, 0.02, -0.03, 0.0, -0.01, -0.04, 0.01, -0.02,
  0.03, -0.03, 0.0, -0.01, -0.05, 0.02, -0.02, 0.01, -0.03, 0.0,
  -0.01, 0.02, -0.04, -0.02, 0.01, 0.0, -0.03, 0.02, -0.01, -0.02,
  0.01, -0.04, 0.0, -0.02, 0.03, -0.01, -0.03, 0.01, -0.02, 0.0,
  -0.02, 0.03, -0.04, 0.01, -0.01, 0.04, -0.03, 0.0, -0.05, 0.02,
  0.01, -0.02, 0.05, -0.04, 0.0, -0.01, 0.03, -0.06, 0.02, -0.03,
  -0.01, 0.04, -0.02, 0.0, -0.04, 0.03, 0.01, -0.03, 0.05, -0.01,
  0.02, -0.05, 0.0, 0.03, -0.02, -0.04, 0.04, -0.01, 0.01, -0.03,
  0.03, -0.05, 0.07, -0.02, 0.01, -0.08, 0.05, -0.03, 0.09, -0.01,
  -0.06, 0.04, -0.1, 0.02, 0.06, -0.04, 0.0, 0.08, -0.07, 0.03,
  -0.02, 0.05, -0.05, 0.1, -0.03, 0.01, -0.09, 0.04, -0.01, 0.07,
  0.0, -0.06, 0.06, -0.04, 0.02, -0.08, 0.08, -0.02, 0.04, -0.05,
  0.04, -0.06, 0.09, -0.02, 0.12, -0.09, 0.06, -0.04, 0.14, 0.0,
  -0.07, 0.05, -0.11, 0.08, 0.02, -0.05, 0.11, -0.01, 0.07, -0.08,
  0.03, 0.1, -0.03, 0.15, -0.06, 0.01, -0.1, 0.06, -0.02, 0.09,
  0.0, -0.12, 0.08, -0.04, 0.13, -0.07, 0.05, 0.02, -0.09, 0.11,
  0.05, -0.06, 0.1, -0.02, 0.13, -0.08, 0.03, 0.07, -0.04, 0.11,
  0.0, -0.09, 0.06, 0.15, -0.03, 0.08, -0.05, 0.12, 0.02, -0.01,
];

const columnTitles = ["single-PSF", "variable-PSF"];
const xTicks = [10, 15, 20];
const drTicks = [0, 2.5, 5, 7.5, 10, 12.5];
const dmTicks = [-0.4, -0.2, 0, 0.2, 0.4];
const xLabel = "m";
const drLabel = "Δr (mas)";
const dmLabel = "Δm";

const FONT_SIZE = 13;
const TICK_FONT = { family: "DejaVu Sans", size: FONT_SIZE };
const HALF_LINE = (FONT_SIZE * 1.2) / 2;
const TEXT_COLOR = "#1a1a1a";

type PanelProps = {
  left: number;
  top: number;
  width: number;
  height: number;
  plotLeft: number;
  plotTop: number;
  plotWidth: number;
  plotHeight: number;
  values: number[];
  yMin: number;
  yMax: number;
  yTicks: number[];
  yLabel: string;
  yTitleCenter: number;
  xTitleCenter: number;
};

const framePlugin = {
  id: "frame",
  afterDraw(chart: any) {
    const { ctx, chartArea: a } = chart;
    ctx.save();
    ctx.strokeStyle = "#bdbdbd";
    ctx.lineWidth = 1;
    ctx.strokeRect(
      Math.round(a.left) - 0.5,
      Math.round(a.top) - 0.5,
      Math.round(a.right) - Math.round(a.left) + 1,
      Math.round(a.bottom) - Math.round(a.top) + 1
    );
    ctx.restore();
  },
};

function fmtY(v: number): string {
  const s = v.toFixed(1);
  return v < 0 ? "\u2212" + s.slice(1) : s;
}

function Panel(p: PanelProps) {
  const ref = useRef<HTMLCanvasElement>(null);
  useEffect(() => {
    if (!ref.current) return;
    const n = Math.min(magnitudes.length, p.values.length);
    const points: { x: number; y: number }[] = [];
    for (let i = 0; i < n; i++) points.push({ x: magnitudes[i], y: p.values[i] });
    const xAxisHeight = p.height - p.plotTop - p.plotHeight;
    const chart = new Chart(ref.current, {
      type: "scatter",
      data: {
        datasets: [
          {
            data: points,
            pointRadius: 1.2,
            pointHoverRadius: 1.2,
            backgroundColor: "#000",
            borderWidth: 0,
          },
        ],
      },
      options: {
        animation: false,
        responsive: false,
        maintainAspectRatio: false,
        events: [],
        layout: {
          padding: {
            left: 0,
            top: p.plotTop,
            right: p.width - p.plotLeft - p.plotWidth,
            bottom: 0,
          },
        },
        plugins: { legend: { display: false }, tooltip: { enabled: false } },
        scales: {
          x: {
            type: "linear",
            min: 8.1,
            max: 20.9,
            afterBuildTicks: (s: any) => {
              s.ticks = xTicks.map((v) => ({ value: v }));
            },
            afterFit: (s: any) => {
              s.height = xAxisHeight;
            },
            grid: { drawOnChartArea: false, drawTicks: true, tickLength: 3, color: "#555" },
            border: { display: false },
            ticks: {
              font: TICK_FONT,
              color: TEXT_COLOR,
              padding: 2,
              maxRotation: 0,
              autoSkip: false,
              callback: (v: any) => String(v),
            },
            title: {
              display: true,
              text: xLabel,
              font: TICK_FONT,
              color: TEXT_COLOR,
              padding: { top: 0, bottom: p.height - p.xTitleCenter - HALF_LINE },
            },
          },
          y: {
            type: "linear",
            min: p.yMin,
            max: p.yMax,
            afterBuildTicks: (s: any) => {
              s.ticks = p.yTicks.map((v) => ({ value: v }));
            },
            afterFit: (s: any) => {
              s.width = p.plotLeft;
            },
            grid: { drawOnChartArea: false, drawTicks: true, tickLength: 3, color: "#555" },
            border: { display: false },
            ticks: {
              font: TICK_FONT,
              color: TEXT_COLOR,
              padding: 2,
              autoSkip: false,
              callback: (v: any) => fmtY(Number(v)),
            },
            title: {
              display: true,
              text: p.yLabel,
              font: TICK_FONT,
              color: TEXT_COLOR,
              padding: { top: p.yTitleCenter - HALF_LINE, bottom: 0 },
            },
          },
        },
      } as any,
      plugins: [framePlugin],
    });
    return () => chart.destroy();
  }, []);
  return (
    <canvas
      ref={ref}
      width={p.width}
      height={p.height}
      style={{ position: "absolute", left: p.left, top: p.top, width: p.width, height: p.height }}
    />
  );
}

export default function App() {
  const titleStyle = (cx: number): React.CSSProperties => ({
    position: "absolute",
    left: cx - 150,
    width: 300,
    top: 17,
    textAlign: "center",
    fontFamily: "'Liberation Mono', 'Courier New', monospace",
    fontSize: 19,
    lineHeight: "19.5px",
    color: "#333",
    whiteSpace: "nowrap",
  });
  return (
    <div
      style={{
        position: "absolute",
        left: 0,
        top: 0,
        width: 581,
        height: 622,
        background: "#fff",
        overflow: "hidden",
      }}
    >
      <div style={titleStyle(136)}>{columnTitles[0]}</div>
      <div style={titleStyle(391)}>{columnTitles[1]}</div>
      <Panel
        left={0} top={46} width={290} height={270}
        plotLeft={77} plotTop={20} plotWidth={195} plotHeight={212}
        values={drSingle} yMin={0} yMax={15} yTicks={drTicks}
        yLabel={drLabel} yTitleCenter={35} xTitleCenter={259}
      />
      <Panel
        left={283} top={46} width={298} height={270}
        plotLeft={77} plotTop={20} plotWidth={196} plotHeight={212}
        values={drVariable} yMin={0} yMax={15} yTicks={drTicks}
        yLabel={drLabel} yTitleCenter={34.5} xTitleCenter={259}
      />
      <Panel
        left={0} top={341} width={290} height={270}
        plotLeft={77} plotTop={20} plotWidth={195} plotHeight={211.5}
        values={dmSingle} yMin={-0.5} yMax={0.5} yTicks={dmTicks}
        yLabel={dmLabel} yTitleCenter={32} xTitleCenter={258.5}
      />
      <Panel
        left={283} top={341} width={298} height={270}
        plotLeft={77} plotTop={20} plotWidth={196} plotHeight={211.5}
        values={dmVariable} yMin={-0.5} yMax={0.5} yTicks={dmTicks}
        yLabel={dmLabel} yTitleCenter={31} xTitleCenter={258.5}
      />
    </div>
  );
}
